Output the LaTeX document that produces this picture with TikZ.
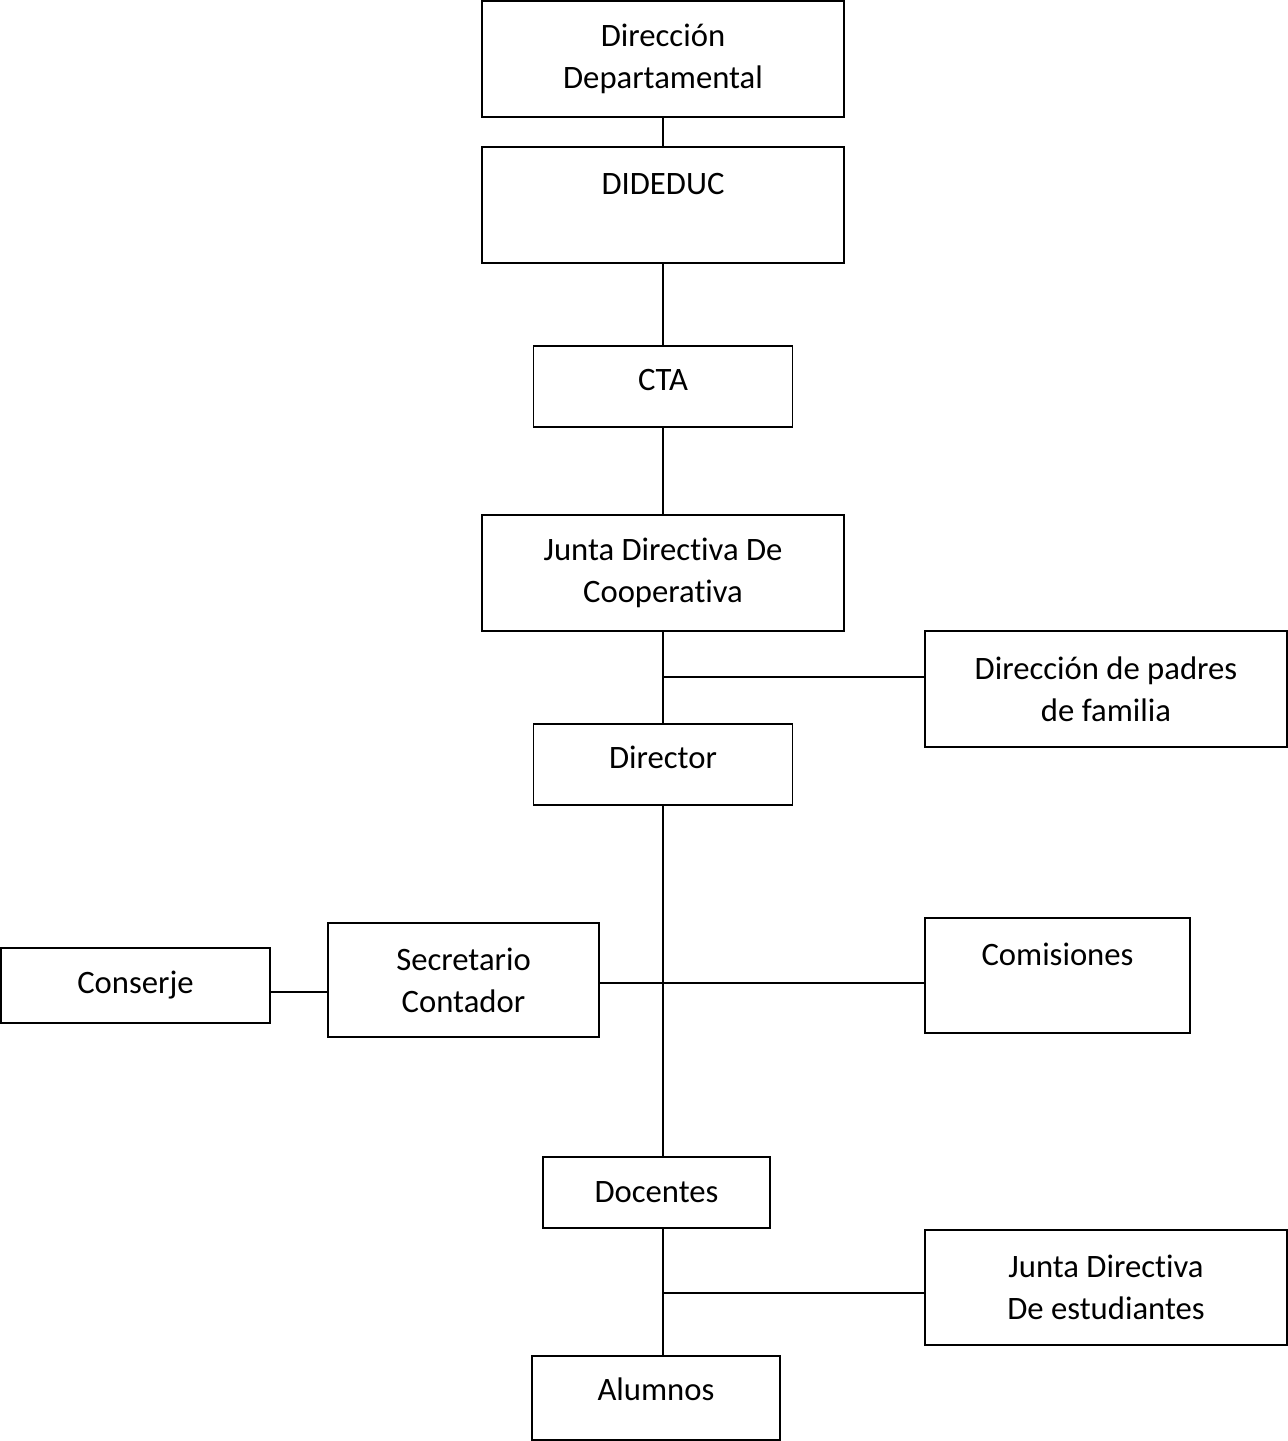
\documentclass[tikz,border=0pt]{standalone}
\usepackage{fontspec}
\setmainfont{Carlito}[Ligatures={NoCommon,NoContextual}]
\begin{document}
\begin{tikzpicture}[x=0.02cm,y=-0.02cm,line width=0.8pt,
    box/.style={draw,line width=0.8pt,align=center,inner sep=0pt,
      font=\fontsize{18.6}{23.8}\selectfont},
    wide/.style={box,minimum width=7.24cm,minimum height=2.32cm},
    small/.style={box,minimum width=5.18cm,minimum height=1.62cm,text depth=8pt}]
        \useasboundingbox (0,0) rectangle (1288,1441);
        \node[wide] (dirdep) at (663,59) {Dirección\\Departamental};
        \node[wide] (dideduc) at (663,205) {DIDEDUC\\\mbox{}};
        \node[small] (cta) at (663,386.5) {CTA};
        \node[wide] (jdcoop) at (663,573) {Junta Directiva De\\Cooperativa};
        \node[wide] (padres) at (1106,689) {Dirección de padres\\de familia};
        \node[small] (director) at (663,764.5) {Director};
        \node[box,minimum width=5.38cm,minimum height=1.5cm] (conserje) at (135.5,985.5) {Conserje};
        \node[box,minimum width=5.42cm,minimum height=2.28cm] (secretario) at (463.5,980) {Secretario\\Contador};
        \node[box,minimum width=5.3cm,minimum height=2.3cm] (comisiones) at (1057.5,975.5) {Comisiones\\\mbox{}};
        \node[box,minimum width=4.54cm,minimum height=1.42cm] (docentes) at (656.5,1192.5) {Docentes};
        \node[wide,minimum height=2.3cm] (jdest) at (1106,1287.5) {Junta Directiva\\De estudiantes};
        \node[box,minimum width=4.96cm,minimum height=1.68cm,text depth=10pt] (alumnos) at (656,1398) {Alumnos};
        \coordinate (b1) at (663,677);
        \coordinate (b2) at (663,983);
        \coordinate (b3) at (299,992);
        \coordinate (b4) at (663,1293);
        \draw (dirdep) -- (dideduc);
        \draw (dideduc) -- (cta);
        \draw (cta) -- (jdcoop);
        \draw (jdcoop) -- (director);
        \draw (b1) -- (b1 -| padres.west);
        \draw (director.south) -- (director.south |- docentes.north);
        \draw (b2 -| secretario.east) -- (b2 -| comisiones.west);
        \draw (b3 -| conserje.east) -- (b3 -| secretario.west);
        \draw (director.south |- docentes.south) -- (director.south |- alumnos.north);
        \draw (b4) -- (b4 -| jdest.west);
      \end{tikzpicture}
\end{document}
